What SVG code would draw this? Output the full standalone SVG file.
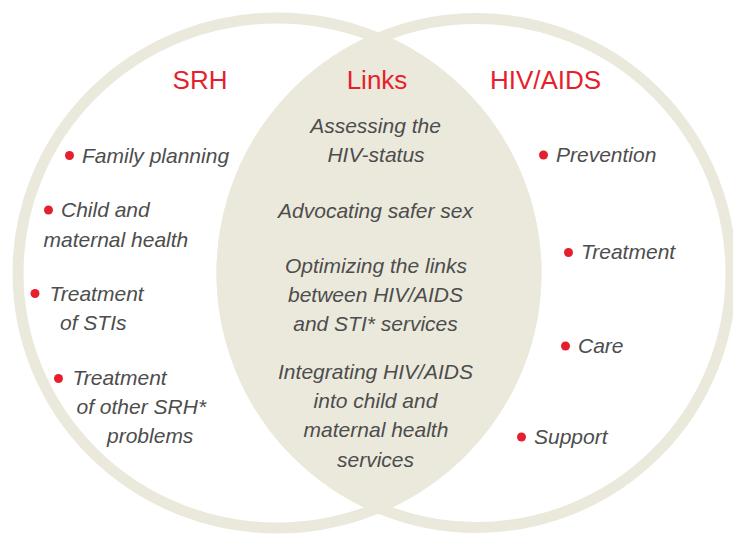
<svg xmlns="http://www.w3.org/2000/svg" width="733" height="540" viewBox="0 0 733 540">
  <style>
    .ring { fill: none; stroke: #ebe9dc; stroke-width: 11; }
    .lens { fill: #ebe9dc; }
    .title { font-family: "Liberation Sans", Arial, sans-serif; font-size: 26px; fill: #e51f2d; text-anchor: middle; }
    .item { font-family: "Liberation Sans", Arial, sans-serif; font-size: 21px; font-style: italic; fill: #4d4d4d; }
    .mid { text-anchor: middle; }
    .dot { fill: #e51f2d; }
  </style>
  <defs>
    <!-- outer boundary of the SRH ring, used to cut the shared area -->
    <clipPath id="srh-outer">
      <ellipse cx="277" cy="273" rx="264.5" ry="260.5"/>
    </clipPath>
  </defs>
  <rect width="733" height="540" fill="#ffffff"/>

  <!-- SRH set -->
  <g id="srh">
    <ellipse class="ring" cx="277" cy="273" rx="259" ry="255"/>
    <text class="title" x="200" y="89">SRH</text>
    <circle class="dot" cx="69.5" cy="155.5" r="4.5"/>
    <text class="item" x="82" y="163">Family planning</text>
    <circle class="dot" cx="48.5" cy="210" r="4.5"/>
    <text class="item" x="61" y="217">Child and</text>
    <text class="item" x="43.5" y="246.5">maternal health</text>
    <circle class="dot" cx="35" cy="293.5" r="4.5"/>
    <text class="item" x="49.5" y="300.5">Treatment</text>
    <text class="item" x="60" y="329.5">of STIs</text>
    <circle class="dot" cx="58.5" cy="378.5" r="4.5"/>
    <text class="item" x="72.5" y="385">Treatment</text>
    <text class="item" x="76.5" y="414">of other SRH*</text>
    <text class="item" x="107" y="443">problems</text>
  </g>

  <!-- HIV/AIDS set -->
  <g id="hiv-aids">
    <circle class="ring" cx="476.5" cy="273" r="254.5"/>
    <text class="title" x="545.5" y="89">HIV/AIDS</text>
    <circle class="dot" cx="543.5" cy="155" r="4.5"/>
    <text class="item" x="556" y="162">Prevention</text>
    <circle class="dot" cx="568.5" cy="252.5" r="4.5"/>
    <text class="item" x="581" y="259">Treatment</text>
    <circle class="dot" cx="565.5" cy="346" r="4.5"/>
    <text class="item" x="578" y="352.5">Care</text>
    <circle class="dot" cx="521.5" cy="437" r="4.5"/>
    <text class="item" x="534" y="444">Support</text>
  </g>

  <!-- overlap: links between both sets -->
  <g id="links">
    <circle class="lens" cx="476.5" cy="273" r="260" clip-path="url(#srh-outer)"/>
    <text class="title" x="377" y="89">Links</text>
    <text class="item mid" x="375.5" y="133">Assessing the</text>
    <text class="item mid" x="376" y="162">HIV-status</text>
    <text class="item mid" x="375.5" y="218">Advocating safer sex</text>
    <text class="item mid" x="376" y="273">Optimizing the links</text>
    <text class="item mid" x="375.5" y="302">between HIV/AIDS</text>
    <text class="item mid" x="375.5" y="331">and STI* services</text>
    <text class="item mid" x="375.5" y="379">Integrating HIV/AIDS</text>
    <text class="item mid" x="375.5" y="408">into child and</text>
    <text class="item mid" x="376" y="437">maternal health</text>
    <text class="item mid" x="375.5" y="466.5">services</text>
  </g>
</svg>
